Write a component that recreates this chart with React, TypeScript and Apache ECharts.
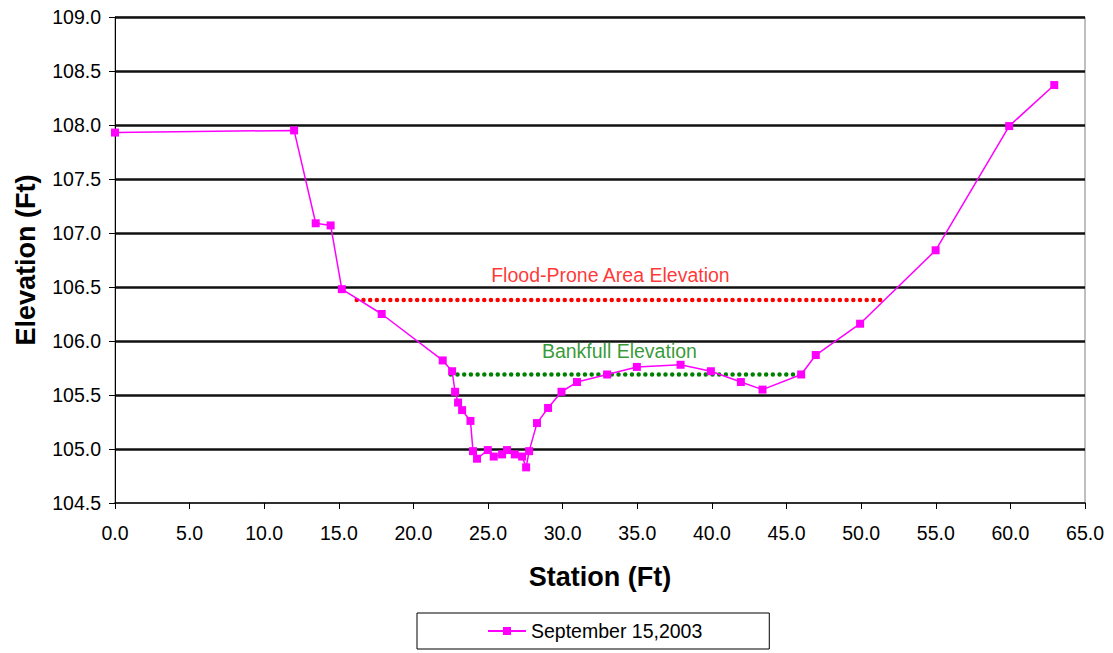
import React, { useEffect, useRef } from "react";
import * as echarts from "echarts";

const stations = [0, 12, 13.45, 14.45, 15.2, 17.87, 21.96, 22.59, 22.79, 22.99, 23.26, 23.82, 23.99, 24.26, 24.98, 25.38, 25.94, 26.27, 26.79, 27.28, 27.55, 27.75, 28.28, 29.02, 29.92, 30.96, 32.98, 34.97, 37.9, 39.93, 41.94, 43.39, 45.98, 46.96, 49.93, 54.99, 59.92, 62.94];
const elevations = [107.93, 107.95, 107.09, 107.07, 106.48, 106.25, 105.82, 105.72, 105.53, 105.43, 105.36, 105.26, 104.98, 104.91, 104.99, 104.93, 104.95, 104.99, 104.95, 104.93, 104.83, 104.98, 105.24, 105.38, 105.53, 105.62, 105.69, 105.76, 105.78, 105.72, 105.62, 105.55, 105.69, 105.87, 106.16, 106.84, 107.99, 108.37];

const floodStations = [16.2, 51.5];
const floodElevation = 106.38;
const bankfullStations = [22.5, 46.0];
const bankfullElevation = 105.69;

const floodLabel = "Flood-Prone Area Elevation";
const floodLabelPos = [33.2, 106.61];
const bankfullLabel = "Bankfull Elevation";
const bankfullLabelPos = [33.8, 105.91];

const seriesName = "September 15,2003";

const FONT = "'Liberation Sans', Arial, sans-serif";

export default function App() {
  const ref = useRef<HTMLDivElement>(null);
  useEffect(() => {
    if (!ref.current) return;
    const chart = echarts.init(ref.current, undefined, { renderer: "svg" });
    const mainData = stations.map((s, i) => [s, elevations[i]]);
    chart.setOption({
      animation: false,
      backgroundColor: "#fff",
      textStyle: { fontFamily: FONT },
      grid: {
        left: 115,
        right: 28,
        top: 17,
        bottom: 150,
        show: true,
        borderColor: "#808080",
        borderWidth: 1,
        backgroundColor: "transparent",
      },
      legend: {
        data: [seriesName],
        left: 417,
        top: 613,
        orient: "horizontal",
        borderColor: "#000",
        borderWidth: 1,
        borderRadius: 0,
        padding: [8, 67, 8, 70],
        itemWidth: 38,
        itemHeight: 10,
        itemGap: 5,
        textStyle: { fontFamily: FONT, fontSize: 19.5, color: "#000" },
      },
      xAxis: {
        type: "value",
        min: 0,
        max: 65,
        interval: 5,
        name: "Station (Ft)",
        nameLocation: "middle",
        nameGap: 60,
        nameTextStyle: { fontFamily: FONT, fontSize: 27, fontWeight: "bold", color: "#000" },
        axisLine: { show: true, onZero: false, lineStyle: { color: "#000", width: 1.5 } },
        axisTick: { show: true, length: 6, lineStyle: { color: "#000" } },
        axisLabel: {
          fontFamily: FONT,
          fontSize: 19.5,
          color: "#000",
          margin: 20,
          formatter: (v: number) => v.toFixed(1),
        },
        splitLine: { show: false },
        z: 6,
      },
      yAxis: {
        type: "value",
        min: 104.5,
        max: 109,
        interval: 0.5,
        name: "Elevation (Ft)",
        nameLocation: "middle",
        nameGap: 76,
        nameRotate: 90,
        nameTextStyle: { fontFamily: FONT, fontSize: 27, fontWeight: "bold", color: "#000" },
        axisLine: { show: true, onZero: false, lineStyle: { color: "#000", width: 1 } },
        axisTick: { show: true, length: 6, lineStyle: { color: "#000" } },
        axisLabel: {
          fontFamily: FONT,
          fontSize: 19.5,
          color: "#000",
          margin: 14,
          formatter: (v: number) => v.toFixed(1),
        },
        splitLine: {
          show: true,
          showMinLine: false,
          lineStyle: { color: "#111", width: 2.5 },
        },
      },
      series: [
        {
          name: "Flood-Prone",
          type: "line",
          data: floodStations.map((s) => [s, floodElevation]),
          symbol: "none",
          lineStyle: { color: "#ff0000", width: 4.5, type: [0.01, 6.7], cap: "round" },
          z: 3,
        },
        {
          name: "Bankfull",
          type: "line",
          data: bankfullStations.map((s) => [s, bankfullElevation]),
          symbol: "none",
          lineStyle: { color: "#008000", width: 4.5, type: [0.01, 6.7], cap: "round" },
          z: 3,
        },
        {
          name: seriesName,
          type: "line",
          data: mainData,
          symbol: "rect",
          symbolSize: 8,
          itemStyle: { color: "#ff00ff" },
          lineStyle: { color: "#ff00ff", width: 1.5 },
          z: 4,
        },
        {
          name: "labels",
          type: "scatter",
          symbolSize: 1,
          itemStyle: { color: "transparent" },
          silent: true,
          data: [
            { value: floodLabelPos, label: { formatter: floodLabel, color: "#ff0000" } },
            { value: bankfullLabelPos, label: { formatter: bankfullLabel, color: "#008000" } },
          ],
          label: {
            show: true,
            position: "inside",
            fontFamily: FONT,
            fontSize: 19.5,
          },
          z: 5,
        },
      ],
    });
    return () => chart.dispose();
  }, []);
  return <div ref={ref} style={{ width: 1113, height: 653, position: "absolute", left: 0, top: 0 }} />;
}
